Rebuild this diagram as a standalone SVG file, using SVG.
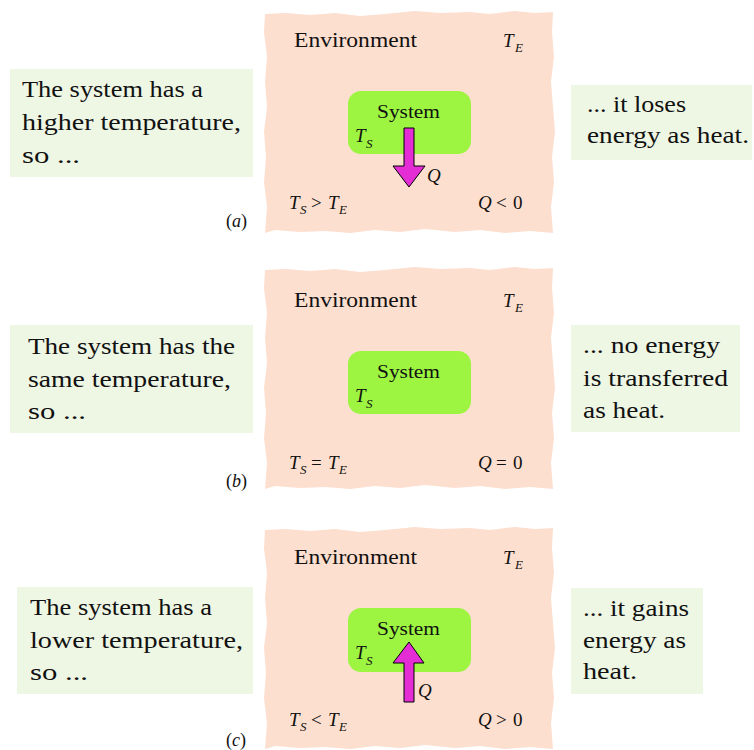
<svg xmlns="http://www.w3.org/2000/svg" xmlns:xlink="http://www.w3.org/1999/xlink" width="754" height="750" viewBox="0 0 754 750">
<style>
.env{fill:#fddfcf}
.sys{fill:#9df542}
.note{fill:#eef6e4}
.t{font-family:"Liberation Serif","Times New Roman",serif;fill:#111}
.big{font-size:23px}
.mid{font-size:19px}
.env-t{font-size:20px}
.sm{font-size:18px}
.it{font-style:italic}
.sub{font-size:13px;font-style:italic}
.arrow{fill:#e52dd6;stroke:#000;stroke-width:1}
</style>
<defs>
<path id="envshape" d="M265,14 L285,13 L310,15 L335,13 L360,16 L385,14 L415,11 L440,13 L470,12 L490,14 L515,11 L535,13 L553,12 L552,32 L554,57 L551,82 L553,107 L555,132 L552,157 L554,182 L551,207 L553,233 L530,231 L505,233 L480,230 L455,232 L425,229 L400,232 L375,230 L350,233 L325,231 L300,232 L275,230 L265,233 L267,207 L264,182 L266,157 L264,132 L267,107 L265,82 L267,57 L264,32 Z"/>
</defs>

<!-- Panel (a) -->
<g id="env-a">
<use xlink:href="#envshape" class="env"/>
<text class="t env-t" x="294" y="47" textLength="123" lengthAdjust="spacingAndGlyphs">Environment</text>
<text class="t mid it" x="503" y="47">T</text><text class="t sub" x="515" y="52">E</text>
<text class="t mid it" x="289" y="209">T</text><text class="t sub" x="300" y="214">S</text>
<text class="t mid" x="311" y="209">&gt;</text>
<text class="t mid it" x="328" y="209">T</text><text class="t sub" x="339" y="214">E</text>
<text class="t mid it" x="478" y="209">Q</text>
<text class="t mid" x="496" y="209">&lt;</text>
<text class="t mid" x="513" y="209">0</text>
</g>
<g id="sys-a">
<rect class="sys" x="348" y="91" width="123" height="63" rx="13"/>
<text class="t sm" x="377" y="118" textLength="63" lengthAdjust="spacingAndGlyphs">System</text>
<text class="t mid it" x="355" y="142">T</text><text class="t sub" x="366" y="148">S</text>
</g>
<g id="left-a">
<rect class="note" x="10" y="69" width="243" height="108"/>
<text class="t big" x="22" y="97" textLength="181" lengthAdjust="spacingAndGlyphs">The system has a</text>
<text class="t big" x="22" y="130" textLength="219" lengthAdjust="spacingAndGlyphs">higher temperature,</text>
<text class="t big" x="22" y="163" textLength="58" lengthAdjust="spacingAndGlyphs">so ...</text>
</g>
<g id="right-a">
<rect class="note" x="571" y="85" width="181" height="75"/>
<text class="t big" x="587" y="112" textLength="99" lengthAdjust="spacingAndGlyphs">... it loses</text>
<text class="t big" x="587" y="143" textLength="162" lengthAdjust="spacingAndGlyphs">energy as heat.</text>
</g>
<g id="label-a"><text class="t sm" x="226" y="227">(<tspan class="it">a</tspan>)</text></g>

<!-- Panel (b) -->
<g id="env-b">
<use xlink:href="#envshape" class="env" transform="translate(0,256)"/>
<text class="t env-t" x="294" y="307" textLength="123" lengthAdjust="spacingAndGlyphs">Environment</text>
<text class="t mid it" x="503" y="307">T</text><text class="t sub" x="515" y="312">E</text>
<text class="t mid it" x="289" y="469">T</text><text class="t sub" x="300" y="474">S</text>
<text class="t mid" x="311" y="469">=</text>
<text class="t mid it" x="328" y="469">T</text><text class="t sub" x="339" y="474">E</text>
<text class="t mid it" x="478" y="469">Q</text>
<text class="t mid" x="496" y="469">=</text>
<text class="t mid" x="513" y="469">0</text>
</g>
<g id="sys-b">
<rect class="sys" x="348" y="351" width="123" height="63" rx="13"/>
<text class="t sm" x="377" y="378" textLength="63" lengthAdjust="spacingAndGlyphs">System</text>
<text class="t mid it" x="355" y="402">T</text><text class="t sub" x="366" y="408">S</text>
</g>
<g id="left-b">
<rect class="note" x="10" y="325" width="243" height="108"/>
<text class="t big" x="28" y="354" textLength="207" lengthAdjust="spacingAndGlyphs">The system has the</text>
<text class="t big" x="28" y="387" textLength="203" lengthAdjust="spacingAndGlyphs">same temperature,</text>
<text class="t big" x="28" y="419" textLength="58" lengthAdjust="spacingAndGlyphs">so ...</text>
</g>
<g id="right-b">
<rect class="note" x="571" y="325" width="169" height="107"/>
<text class="t big" x="583" y="353" textLength="137" lengthAdjust="spacingAndGlyphs">... no energy</text>
<text class="t big" x="583" y="386" textLength="145" lengthAdjust="spacingAndGlyphs">is transferred</text>
<text class="t big" x="583" y="418" textLength="82" lengthAdjust="spacingAndGlyphs">as heat.</text>
</g>
<g id="label-b"><text class="t sm" x="226" y="487">(<tspan class="it">b</tspan>)</text></g>

<!-- Panel (c) -->
<g id="env-c">
<use xlink:href="#envshape" class="env" transform="translate(0,516)"/>
<text class="t env-t" x="294" y="564" textLength="123" lengthAdjust="spacingAndGlyphs">Environment</text>
<text class="t mid it" x="503" y="564">T</text><text class="t sub" x="515" y="569">E</text>
<text class="t mid it" x="289" y="726">T</text><text class="t sub" x="300" y="731">S</text>
<text class="t mid" x="311" y="726">&lt;</text>
<text class="t mid it" x="328" y="726">T</text><text class="t sub" x="339" y="731">E</text>
<text class="t mid it" x="478" y="726">Q</text>
<text class="t mid" x="496" y="726">&gt;</text>
<text class="t mid" x="513" y="726">0</text>
</g>
<g id="sys-c">
<rect class="sys" x="348" y="608" width="123" height="64" rx="13"/>
<text class="t sm" x="377" y="635" textLength="63" lengthAdjust="spacingAndGlyphs">System</text>
<text class="t mid it" x="355" y="659">T</text><text class="t sub" x="366" y="665">S</text>
</g>
<g id="left-c">
<rect class="note" x="17" y="587" width="236" height="107"/>
<text class="t big" x="30" y="615" textLength="182" lengthAdjust="spacingAndGlyphs">The system has a</text>
<text class="t big" x="30" y="648" textLength="213" lengthAdjust="spacingAndGlyphs">lower temperature,</text>
<text class="t big" x="30" y="680" textLength="58" lengthAdjust="spacingAndGlyphs">so ...</text>
</g>
<g id="right-c">
<rect class="note" x="571" y="588" width="132" height="106"/>
<text class="t big" x="583" y="616" textLength="106" lengthAdjust="spacingAndGlyphs">... it gains</text>
<text class="t big" x="583" y="648" textLength="103" lengthAdjust="spacingAndGlyphs">energy as</text>
<text class="t big" x="583" y="679" textLength="54" lengthAdjust="spacingAndGlyphs">heat.</text>
</g>
<g id="label-c"><text class="t sm" x="226" y="746">(<tspan class="it">c</tspan>)</text></g>

<!-- Heat-flow connectors -->
<g id="connectors">
<polygon class="arrow" points="404,128 414,128 414,166 425,166 409,187 393,166 404,166"/>
<text class="t mid it" x="427" y="182">Q</text>
<polygon class="arrow" points="404,702 414,702 414,663 424,663 409,642 393,663 404,663"/>
<text class="t mid it" x="418" y="697">Q</text>
</g>
</svg>
